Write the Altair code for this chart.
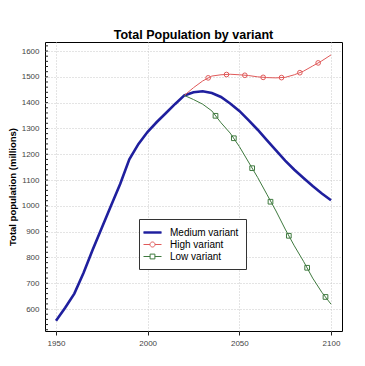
import altair as alt
import pandas as pd

# ---- data ----
variants = ["Medium variant", "High variant", "Low variant"]

years_medium = list(range(1950, 2101, 5))
medium = [555, 605, 660, 740, 830, 915, 1000, 1085, 1180, 1240, 1287, 1325, 1360,
          1395, 1428, 1440, 1444, 1437, 1422, 1397, 1368, 1332, 1295, 1255, 1215,
          1175, 1140, 1108, 1077, 1048, 1022]

years_proj = list(range(2020, 2101, 5))
high = [1428, 1458, 1484, 1503, 1508, 1510, 1508, 1505, 1500, 1497, 1496, 1498,
        1508, 1522, 1542, 1562, 1585]
low = [1428, 1412, 1394, 1368, 1322, 1282, 1230, 1170, 1110, 1045, 980, 910,
       845, 785, 720, 665, 619]

high_marker_years = [2033, 2043, 2053, 2063, 2073, 2083, 2093]
high_marker_vals = [1496, 1509, 1506, 1498, 1497, 1516, 1554]
low_marker_years = [2037, 2047, 2057, 2067, 2077, 2087, 2097]
low_marker_vals = [1349, 1262, 1146, 1016, 884, 760, 647]

x_ticks = [1950, 2000, 2050, 2100]
y_ticks = list(range(600, 1601, 100))
y_minor_ticks = list(range(520, 1621, 20))

colors = ["#1f1f9e", "#e05a5a", "#3f7a3f"]
legend_paths = [
    "M-1.5,-0.12H1.5M-1.5,0H1.5M-1.5,0.12H1.5",
    "M-1.5,0H-0.42M0.42,0H1.5M0.42,0A0.42,0.42,0,1,1,-0.42,0A0.42,0.42,0,1,1,0.42,0",
    "M-1.5,0H-0.4M0.4,0H1.5M-0.4,-0.4H0.4V0.4H-0.4Z",
]

# ---- tables ----
med_df = pd.DataFrame({"year": years_medium, "value": medium, "variant": variants[0]})
proj_df = pd.concat([
    pd.DataFrame({"year": years_proj, "value": high, "variant": variants[1]}),
    pd.DataFrame({"year": years_proj, "value": low, "variant": variants[2]}),
], ignore_index=True)
all_df = pd.concat([med_df, proj_df], ignore_index=True)
high_mk_df = pd.DataFrame({"year": high_marker_years, "value": high_marker_vals})
low_mk_df = pd.DataFrame({"year": low_marker_years, "value": low_marker_vals})
minor_df = pd.DataFrame({"value": y_minor_ticks})

font = "Liberation Sans"
xscale = alt.Scale(domain=[1944, 2106], nice=False, zero=False)
yscale = alt.Scale(domain=[515, 1635], nice=False, zero=False)
cscale = alt.Scale(domain=variants, range=colors)
sscale = alt.Scale(domain=variants, range=legend_paths)

x_axis = alt.Axis(values=x_ticks, format="d", title=None, labelFont=font,
                  labelFontSize=8, labelColor="#444", tickSize=4, tickColor="#222",
                  grid=True, gridDash=[1, 2], gridColor="#c8c8c8", domain=False,
                  labelPadding=4)
y_axis = alt.Axis(values=y_ticks, format="d", title="Total population (millions)",
                  titleFont=font, titleFontSize=9.5, titleFontWeight="bold",
                  titleColor="#000", titleX=-33, titleBaseline="middle",
                  labelFont=font, labelFontSize=8, labelColor="#444", ticks=False,
                  grid=True, gridDash=[1, 2], gridColor="#c8c8c8", domain=False,
                  labelPadding=6)

X = alt.X("year:Q", scale=xscale, axis=x_axis)
Y = alt.Y("value:Q", scale=yscale, axis=y_axis)

leg = alt.Legend(orient="none", legendX=94, legendY=177, title=None,
                 strokeColor="#333", fillColor="white", padding=7,
                 labelFont=font, labelFontSize=10, labelColor="#000",
                 symbolSize=144, labelOffset=11, rowPadding=0,
                 symbolStrokeWidth=1)

legend_layer = alt.Chart(all_df).transform_filter("datum.year < 0").mark_point(
    filled=False, opacity=1, strokeWidth=1
).encode(
    x=X, y=Y,
    color=alt.Color("variant:N", scale=cscale, legend=leg),
    shape=alt.Shape("variant:N", scale=sscale, legend=leg),
)

med_line = alt.Chart(med_df).mark_line(clip=True, strokeWidth=2.6).encode(
    x=X, y=Y,
    color=alt.Color("variant:N", scale=cscale),
)
proj_lines = alt.Chart(proj_df).mark_line(clip=True, strokeWidth=1).encode(
    x=X, y=Y,
    color=alt.Color("variant:N", scale=cscale),
    detail="variant:N",
)

high_pts = alt.Chart(high_mk_df).mark_point(
    shape="circle", filled=False, size=22, color=colors[1], strokeWidth=1, opacity=1
).encode(x=X, y=Y)

low_pts = alt.Chart(low_mk_df).mark_point(
    shape="square", filled=False, size=22, color=colors[2], strokeWidth=1, opacity=1
).encode(x=X, y=Y)

minor = alt.Chart(minor_df).mark_rule(color="#222", strokeWidth=1).encode(
    y=Y, x=alt.value(0), x2=alt.value(3),
)

chart = alt.layer(legend_layer, med_line, proj_lines, high_pts, low_pts, minor).properties(
    width=297, height=289,
    background="white",
    title=alt.Title("Total Population by variant", font=font, fontSize=12.5,
                    fontWeight="bold", color="#000", anchor="middle",
                    baseline="alphabetic", offset=2, frame="group", dy=11.5),
    autosize=alt.AutoSizeParams(type="none"),
    padding={"left": 37, "top": 34, "right": 12, "bottom": 28},
).configure_view(stroke="#000", strokeWidth=1)

chart.save("out.html", embed_options={"renderer": "svg", "actions": False})
